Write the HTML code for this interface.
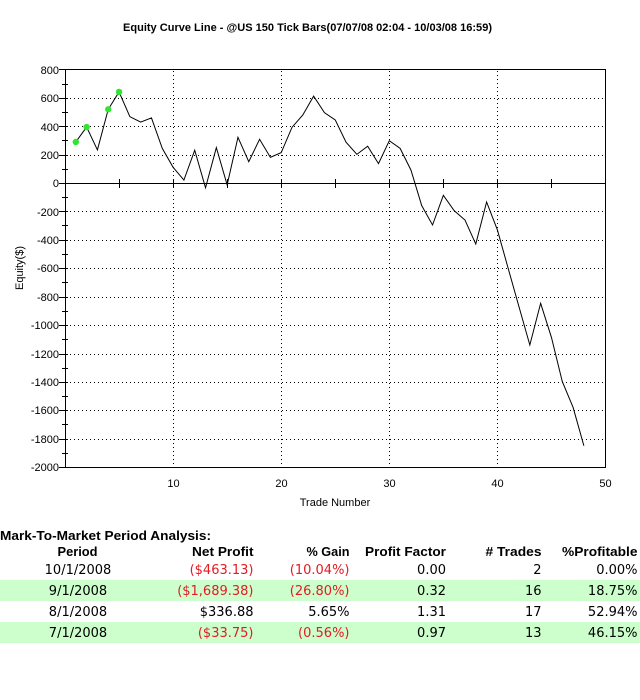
<!DOCTYPE html>
<html>
<head>
<meta charset="utf-8">
<style>
  html,body{margin:0;padding:0;background:#fff;}
  body{width:640px;height:700px;overflow:hidden;}
  svg{display:block;}
  .ax{font-family:"Liberation Sans",Arial,sans-serif;font-size:11px;fill:#000;}
  .tb{font-family:"DejaVu Sans","Liberation Sans",sans-serif;font-size:13px;fill:#000;}
  .th{font-family:"Liberation Sans",Arial,sans-serif;font-size:13px;font-weight:bold;fill:#000;}
  .red{fill:#e31b23;}
</style>
</head>
<body>
<svg width="640" height="700" viewBox="0 0 640 700" xmlns="http://www.w3.org/2000/svg">
  <rect x="0" y="0" width="640" height="700" fill="#fff"/>

  <!-- Title -->
  <text x="123" y="31" class="ax" font-weight="bold" textLength="369" lengthAdjust="spacingAndGlyphs">Equity Curve Line - @US 150 Tick Bars(07/07/08 02:04 - 10/03/08 16:59)</text>

  <!-- Horizontal dotted grid -->
  <g stroke="#000" stroke-width="1" stroke-dasharray="1 3" shape-rendering="crispEdges">
    <line x1="66" y1="98.5" x2="605" y2="98.5"/>
    <line x1="66" y1="126.5" x2="605" y2="126.5"/>
    <line x1="66" y1="155.5" x2="605" y2="155.5"/>
    <line x1="66" y1="211.5" x2="605" y2="211.5"/>
    <line x1="66" y1="240.5" x2="605" y2="240.5"/>
    <line x1="66" y1="268.5" x2="605" y2="268.5"/>
    <line x1="66" y1="297.5" x2="605" y2="297.5"/>
    <line x1="66" y1="325.5" x2="605" y2="325.5"/>
    <line x1="66" y1="354.5" x2="605" y2="354.5"/>
    <line x1="66" y1="382.5" x2="605" y2="382.5"/>
    <line x1="66" y1="410.5" x2="605" y2="410.5"/>
    <line x1="66" y1="439.5" x2="605" y2="439.5"/>
    <!-- vertical -->
    <line x1="173.5" y1="71" x2="173.5" y2="467"/>
    <line x1="281.5" y1="71" x2="281.5" y2="467"/>
    <line x1="389.5" y1="71" x2="389.5" y2="467"/>
    <line x1="497.5" y1="71" x2="497.5" y2="467"/>
  </g>

  <!-- Plot border -->
  <rect x="65.5" y="69.5" width="540" height="398" fill="none" stroke="#000" stroke-width="1" shape-rendering="crispEdges"/>

  <!-- Zero line -->
  <line x1="65" y1="183.5" x2="606" y2="183.5" stroke="#000" stroke-width="1.2" shape-rendering="crispEdges"/>
  <g stroke="#000" stroke-width="1" shape-rendering="crispEdges">
    <line x1="119.5" y1="179" x2="119.5" y2="188"/>
    <line x1="227.5" y1="179" x2="227.5" y2="188"/>
    <line x1="335.5" y1="179" x2="335.5" y2="188"/>
    <line x1="443.5" y1="179" x2="443.5" y2="188"/>
    <line x1="551.5" y1="179" x2="551.5" y2="188"/>
    <line x1="173.5" y1="179" x2="173.5" y2="188"/>
    <line x1="281.5" y1="179" x2="281.5" y2="188"/>
    <line x1="389.5" y1="179" x2="389.5" y2="188"/>
    <line x1="497.5" y1="179" x2="497.5" y2="188"/>
  </g>

  <!-- Left axis ticks: major -->
  <g stroke="#000" stroke-width="1" shape-rendering="crispEdges">
    <line x1="59" y1="69.5" x2="66" y2="69.5"/>
    <line x1="59" y1="98.5" x2="68" y2="98.5"/>
    <line x1="59" y1="126.5" x2="68" y2="126.5"/>
    <line x1="59" y1="155.5" x2="68" y2="155.5"/>
    <line x1="59" y1="183.5" x2="66" y2="183.5"/>
    <line x1="59" y1="211.5" x2="68" y2="211.5"/>
    <line x1="59" y1="240.5" x2="68" y2="240.5"/>
    <line x1="59" y1="268.5" x2="68" y2="268.5"/>
    <line x1="59" y1="297.5" x2="68" y2="297.5"/>
    <line x1="59" y1="325.5" x2="68" y2="325.5"/>
    <line x1="59" y1="354.5" x2="68" y2="354.5"/>
    <line x1="59" y1="382.5" x2="68" y2="382.5"/>
    <line x1="59" y1="410.5" x2="68" y2="410.5"/>
    <line x1="59" y1="439.5" x2="68" y2="439.5"/>
    <line x1="59" y1="467.5" x2="66" y2="467.5"/>
    <!-- minor -->
    <line x1="62" y1="84.5" x2="68" y2="84.5"/>
    <line x1="62" y1="112.5" x2="68" y2="112.5"/>
    <line x1="62" y1="140.5" x2="68" y2="140.5"/>
    <line x1="62" y1="169.5" x2="68" y2="169.5"/>
    <line x1="62" y1="197.5" x2="68" y2="197.5"/>
    <line x1="62" y1="225.5" x2="68" y2="225.5"/>
    <line x1="62" y1="254.5" x2="68" y2="254.5"/>
    <line x1="62" y1="282.5" x2="68" y2="282.5"/>
    <line x1="62" y1="311.5" x2="68" y2="311.5"/>
    <line x1="62" y1="339.5" x2="68" y2="339.5"/>
    <line x1="62" y1="368.5" x2="68" y2="368.5"/>
    <line x1="62" y1="396.5" x2="68" y2="396.5"/>
    <line x1="62" y1="424.5" x2="68" y2="424.5"/>
    <line x1="62" y1="453.5" x2="68" y2="453.5"/>
  </g>

  <!-- Y labels -->
  <g class="ax" text-anchor="end">
    <text x="59" y="74">800</text>
    <text x="59" y="102">600</text>
    <text x="59" y="131">400</text>
    <text x="59" y="159">200</text>
    <text x="59" y="187">0</text>
    <text x="59" y="216">-200</text>
    <text x="59" y="244">-400</text>
    <text x="59" y="272">-600</text>
    <text x="59" y="301">-800</text>
    <text x="59" y="329">-1000</text>
    <text x="59" y="358">-1200</text>
    <text x="59" y="386">-1400</text>
    <text x="59" y="414">-1600</text>
    <text x="59" y="443">-1800</text>
    <text x="59" y="471">-2000</text>
  </g>

  <!-- X labels -->
  <g class="ax" text-anchor="middle">
    <text x="173.5" y="487">10</text>
    <text x="281.5" y="487">20</text>
    <text x="389.5" y="487">30</text>
    <text x="497.5" y="487">40</text>
    <text x="605.5" y="487">50</text>
  </g>

  <text x="335" y="506" class="ax" text-anchor="middle">Trade Number</text>
  <text class="ax" text-anchor="middle" transform="translate(23,268) rotate(-90)">Equity($)</text>

  <!-- Equity line -->
  <polyline fill="none" stroke="#000" stroke-width="1" stroke-linejoin="miter"
    points="75.81,141.98 86.62,127.05 97.43,149.94 108.24,109.29 119.05,91.95 129.86,116.68 140.67,122.08 151.48,117.96 162.29,148.38 173.1,167.28 183.91,180.07 194.72,150.22 205.53,187.75 216.34,147.66 227.15,184.91 237.96,137.29 248.77,161.74 259.58,139.28 270.39,157.33 281.2,152.64 292.01,127.34 302.82,114.97 313.63,96.07 324.44,112.7 335.25,119.95 346.06,142.26 356.87,154.35 367.68,146.24 378.49,163.58 389.3,140.7 400.11,148.38 410.92,169.98 421.73,205.66 432.54,224.99 443.35,195.28 454.16,210.63 464.97,220.01 475.78,244.04 486.59,201.96 497.4,229.96 508.21,268.48 519.02,306.86 529.83,344.96 540.64,303.31 551.45,337.42 562.26,381.49 573.07,407.35 583.88,445.73"/>

  <!-- New-high markers -->
  <g fill="#2ee62e">
    <circle cx="75.81" cy="141.98" r="3.2"/>
    <circle cx="86.62" cy="127.05" r="3.2"/>
    <circle cx="108.24" cy="109.29" r="3.2"/>
    <circle cx="119.05" cy="91.95" r="3.2"/>
  </g>

  <!-- Table -->
  <rect x="0" y="580" width="640" height="21" fill="#ccffcc"/>
  <rect x="0" y="622" width="640" height="21" fill="#ccffcc"/>

  <text x="0" y="540" class="th" textLength="211" lengthAdjust="spacingAndGlyphs">Mark-To-Market Period Analysis:</text>

  <g class="th">
    <text x="77.5" y="556" text-anchor="middle" textLength="40" lengthAdjust="spacingAndGlyphs">Period</text>
    <text x="253.5" y="556" text-anchor="end" textLength="61.5" lengthAdjust="spacingAndGlyphs">Net Profit</text>
    <text x="349.5" y="556" text-anchor="end" textLength="43" lengthAdjust="spacingAndGlyphs">% Gain</text>
    <text x="446" y="556" text-anchor="end" textLength="81" lengthAdjust="spacingAndGlyphs">Profit Factor</text>
    <text x="541.5" y="556" text-anchor="end" textLength="56" lengthAdjust="spacingAndGlyphs"># Trades</text>
    <text x="637.5" y="556" text-anchor="end" textLength="75.5" lengthAdjust="spacingAndGlyphs">%Profitable</text>
  </g>

  <g class="tb">
    <!-- row 1 -->
    <text x="78" y="574" text-anchor="middle">10/1/2008</text>
    <text x="253.5" y="574" text-anchor="end" class="tb red">($463.13)</text>
    <text x="349.5" y="574" text-anchor="end" class="tb red">(10.04%)</text>
    <text x="446" y="574" text-anchor="end">0.00</text>
    <text x="541.5" y="574" text-anchor="end">2</text>
    <text x="637.5" y="574" text-anchor="end">0.00%</text>
    <!-- row 2 -->
    <text x="78" y="595" text-anchor="middle">9/1/2008</text>
    <text x="253.5" y="595" text-anchor="end" class="tb red">($1,689.38)</text>
    <text x="349.5" y="595" text-anchor="end" class="tb red">(26.80%)</text>
    <text x="446" y="595" text-anchor="end">0.32</text>
    <text x="541.5" y="595" text-anchor="end">16</text>
    <text x="637.5" y="595" text-anchor="end">18.75%</text>
    <!-- row 3 -->
    <text x="78" y="616" text-anchor="middle">8/1/2008</text>
    <text x="253.5" y="616" text-anchor="end">$336.88</text>
    <text x="349.5" y="616" text-anchor="end">5.65%</text>
    <text x="446" y="616" text-anchor="end">1.31</text>
    <text x="541.5" y="616" text-anchor="end">17</text>
    <text x="637.5" y="616" text-anchor="end">52.94%</text>
    <!-- row 4 -->
    <text x="78" y="637" text-anchor="middle">7/1/2008</text>
    <text x="253.5" y="637" text-anchor="end" class="tb red">($33.75)</text>
    <text x="349.5" y="637" text-anchor="end" class="tb red">(0.56%)</text>
    <text x="446" y="637" text-anchor="end">0.97</text>
    <text x="541.5" y="637" text-anchor="end">13</text>
    <text x="637.5" y="637" text-anchor="end">46.15%</text>
  </g>
</svg>
</body>
</html>
